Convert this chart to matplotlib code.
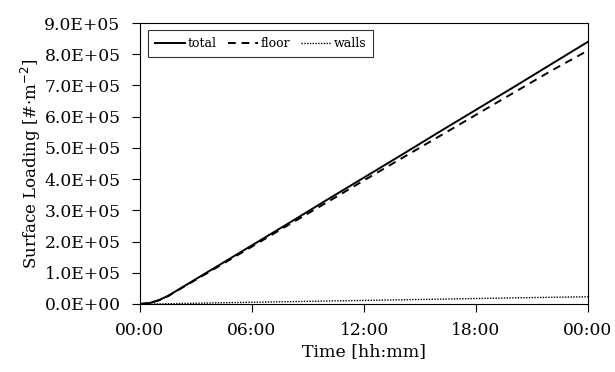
import numpy as np
import matplotlib
matplotlib.use('Agg')
import matplotlib.pyplot as plt
from matplotlib.ticker import FuncFormatter

# values (hours since start, #/m^2)
hours = [0, 0.5, 1, 1.5, 2, 3, 4, 6, 8, 10, 12, 14, 16, 18, 20, 22, 24]
total = [0, 3.0e3, 1.2e4, 2.6e4, 4.4e4, 8.0e4, 1.16e5, 1.88e5, 2.60e5, 3.33e5,
         4.05e5, 4.77e5, 5.50e5, 6.22e5, 6.94e5, 7.67e5, 8.40e5]
floor = [0, 2.9e3, 1.15e4, 2.5e4, 4.3e4, 7.8e4, 1.13e5, 1.84e5, 2.55e5, 3.25e5,
         3.96e5, 4.66e5, 5.36e5, 6.06e5, 6.76e5, 7.46e5, 8.12e5]
walls = [0, 1.0e2, 4.0e2, 8.0e2, 1.3e3, 2.4e3, 3.5e3, 5.5e3, 7.5e3, 9.5e3,
         1.15e4, 1.35e4, 1.55e4, 1.75e4, 1.95e4, 2.15e4, 2.3e4]
xticks = [0, 6, 12, 18, 24]
xlabels = ['00:00', '06:00', '12:00', '18:00', '00:00']

plt.rcParams['font.family'] = ['DejaVu Serif']

fig = plt.figure(figsize=(6.15, 3.72), dpi=100)
ax = fig.add_axes([140/615, 1-304/372, (588-140)/615, (304-23)/372])

ax.plot(hours, total, color='black', lw=1.4, label='total')
ax.plot(hours, floor, color='black', lw=1.4, ls=(0, (4, 3)), label='floor')
ax.plot(hours, walls, color='black', lw=1.0, ls=(0, (1, 1)), label='walls')

ax.set_xlim(0, 24)
ax.set_ylim(0, 9e5)
ax.set_xticks(xticks)
ax.set_xticklabels(xlabels)
ax.set_yticks(np.arange(0, 9.01e5, 1e5))
ax.yaxis.set_major_formatter(FuncFormatter(lambda v, p: '{:.1E}'.format(v)))
ax.tick_params(direction='out', length=6, width=0.8, labelsize=12.3)
ax.tick_params(axis='y', pad=8)
ax.tick_params(axis='x', pad=7)
for s in ax.spines.values():
    s.set_linewidth(0.8)

ax.set_xlabel('Time [hh:mm]', fontsize=12.5, labelpad=3)
ax.set_ylabel('Surface Loading [#$\\cdot$m$^{-2}$]', fontsize=12, labelpad=1)

leg = ax.legend(loc='upper left', ncol=3, fontsize=9, frameon=True, fancybox=False,
                edgecolor='black', handlelength=2.4, handletextpad=0.2,
                columnspacing=0.9, borderpad=0.55, borderaxespad=0,
                bbox_to_anchor=(0.018, 0.975))
leg.get_frame().set_linewidth(0.8)

plt.savefig('out.png', dpi=100)
